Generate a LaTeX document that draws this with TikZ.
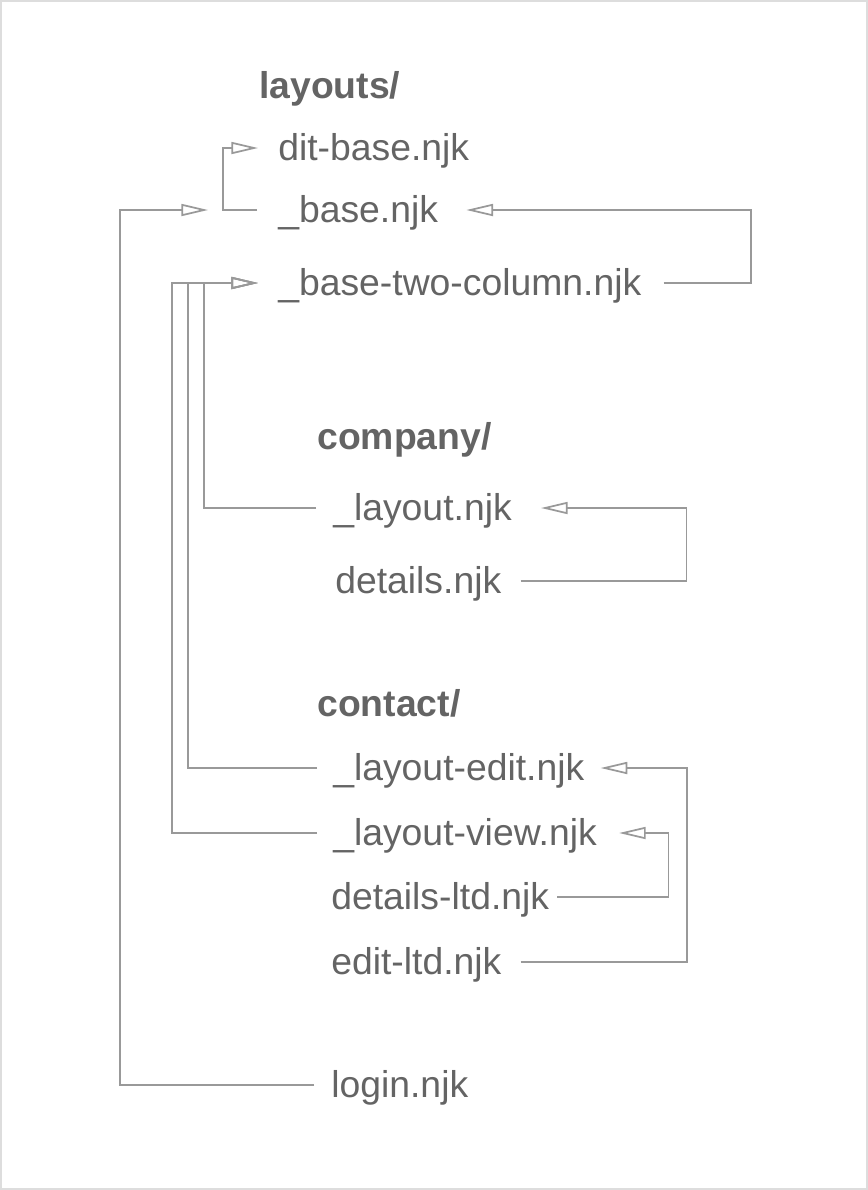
\documentclass[tikz,border=0pt]{standalone}
\usepackage{fontspec}
\setmainfont{Liberation Sans}
\usetikzlibrary{arrows.meta,calc}

\definecolor{linegrey}{RGB}{153,153,153}
\definecolor{textgrey}{RGB}{100,100,100}
\definecolor{framegrey}{RGB}{221,221,221}

\tikzset{
  file/.style={anchor=west,inner sep=0pt,text height=23.5pt,text depth=5.4pt,text=textgrey,font=\fontsize{28}{34}\selectfont},
  folder/.style={file,font=\fontsize{28}{34}\selectfont\bfseries},
  link/.style={draw=linegrey,line width=1.3pt},
  uses/.style={link,-{Triangle[open,length=20pt,width=9pt]}}
}

\begin{document}
\begin{tikzpicture}[x=0.75pt,y=0.75pt,yscale=-1,xscale=1]
\useasboundingbox (0,0) rectangle (868,1190);
%Frame
\draw [framegrey,line width=1.5pt] (1,1) rectangle (867,1189);

% Text Node
\node [folder] (layouts) at (259,86) {layouts/};
% Text Node
\node [file] (ditbase) at (278,148) {dit-base.njk};
% Text Node
\node [file] (base) at (278,210) {\_base.njk};
% Text Node
\node [file] (twocol) at (278,283) {\_base-two-column.njk};
% Text Node
\node [folder] (company) at (317,437) {company/};
% Text Node
\node [file] (layout) at (333,508) {\_layout.njk};
% Text Node
\node [file] (details) at (335,581) {details.njk};
% Text Node
\node [folder] (contact) at (317,704) {contact/};
% Text Node
\node [file] (layoutedit) at (333,768) {\_layout-edit.njk};
% Text Node
\node [file] (layoutview) at (333,833) {\_layout-view.njk};
% Text Node
\node [file] (detailsltd) at (331,897) {details-ltd.njk};
% Text Node
\node [file] (editltd) at (331,962) {edit-ltd.njk};
% Text Node
\node [file] (login) at (331,1085) {login.njk};

%Straight Lines
\draw [uses] ($(base.west)+(-21,0)$) -| ($(ditbase.west)+(-55,0)$) -- ($(ditbase.west)+(-20,0)$);
%Straight Lines
\draw [uses] ($(login.west)+(-17,0)$) -| ($(base.west)+(-158,0)$) -- ($(base.west)+(-70,0)$);
%Straight Lines
\draw [uses] ($(twocol.east)+(22,0)$) -- ++(87,0) |- ($(base.east)+(28,0)$);
%Straight Lines
\draw [uses] ($(layout.west)+(-17,0)$) -| ($(twocol.west)+(-74,0)$) -- ($(twocol.west)+(-20,0)$);
%Straight Lines
\draw [uses] ($(layoutedit.west)+(-16,0)$) -| ($(twocol.west)+(-90,0)$) -- ($(twocol.west)+(-20,0)$);
%Straight Lines
\draw [uses] ($(layoutview.west)+(-16,0)$) -| ($(twocol.west)+(-106,0)$) -- ($(twocol.west)+(-20,0)$);
%Straight Lines
\draw [uses] ($(details.east)+(19,0)$) -- ++(166,0) |- ($(layout.east)+(29,0)$);
%Straight Lines
\draw [uses] ($(editltd.east)+(19,0)$) -- ++(166,0) |- ($(layoutedit.east)+(16,0)$);
%Straight Lines
\draw [uses] ($(detailsltd.east)+(8,0)$) -- ++(111,0) |- ($(layoutview.east)+(22,0)$);

\end{tikzpicture}
\end{document}
